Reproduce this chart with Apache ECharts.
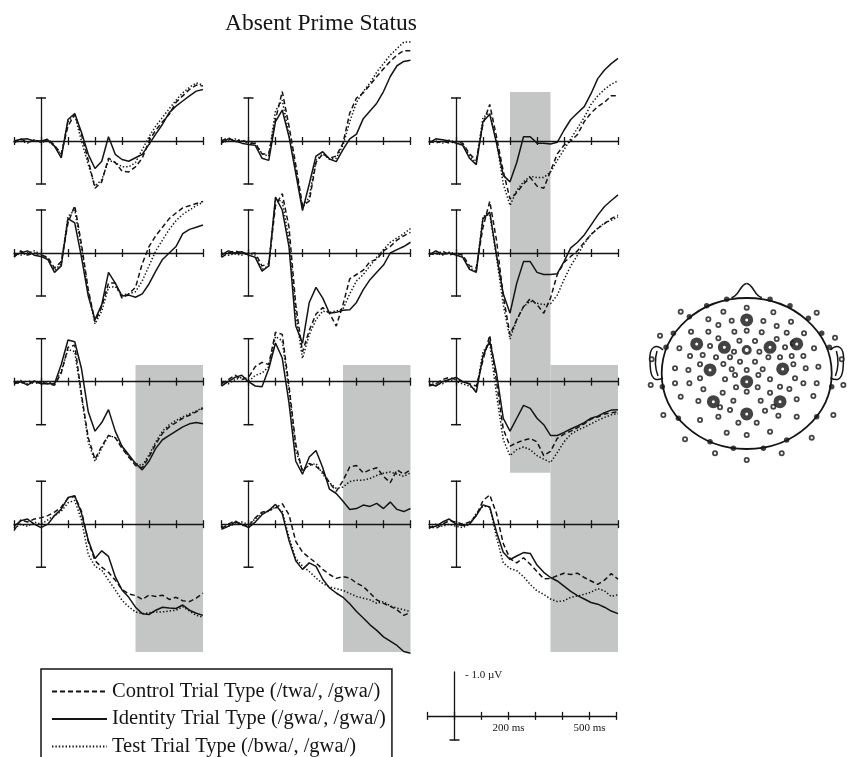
<!DOCTYPE html>
<html><head><meta charset="utf-8">
<script src="https://cdn.jsdelivr.net/npm/echarts/dist/echarts.min.js"></script>
<style>html,body{margin:0;padding:0;background:#fff}#c{width:847px;height:757px}</style>
</head><body><div id="c"></div>
<script>
// ---------- DATA ----------
const times = [-100,-75,-50,-25,0,25,50,75,100,125,150,175,200,225,250,275,300,325,350,375,400,425,450,475,500,525,550,575,600];
const seriesNames = ['Control Trial Type (/twa/, /gwa/)', 'Identity Trial Type (/gwa/, /gwa/)', 'Test Trial Type (/bwa/, /gwa/)'];
const titleText = 'Absent Prime Status';

// values in microvolts (negative plotted upward)
const r1c1_control  = [0.05,-0.05,0.03,-0.02,0.02,-0.05,0.1,0.3,-0.35,-0.62,-0.15,0.45,1.1,0.95,0.4,0.5,0.7,0.72,0.6,0.4,0.0,-0.25,-0.45,-0.62,-0.9,-1.05,-1.2,-1.3,-1.28];
const r1c1_identity = [0.0,-0.04,-0.05,0.0,0.0,-0.03,0.12,0.39,-0.5,-0.64,-0.2,0.31,0.64,0.47,-0.1,0.31,0.43,0.47,0.39,0.31,0.08,-0.16,-0.39,-0.66,-0.81,-0.93,-1.05,-1.16,-1.2];
const r1c1_test     = [0.02,0.0,0.05,-0.03,0.03,0.0,0.12,0.32,-0.45,-0.6,0.0,0.55,1.05,0.9,0.45,0.5,0.6,0.6,0.5,0.2,-0.1,-0.35,-0.55,-0.75,-0.95,-1.12,-1.25,-1.35,-1.3];

const r1c2_control  = [0.0,-0.08,0.02,-0.03,0.05,0.05,0.3,0.3,-0.5,-1.15,-0.35,0.55,1.5,1.4,0.5,0.3,0.4,0.35,0.05,-0.65,-1.0,-1.12,-1.3,-1.5,-1.68,-1.85,-2.0,-2.1,-2.1];
const r1c2_identity = [0.05,-0.05,0.0,0.05,0.08,0.1,0.4,0.45,-0.45,-0.72,-0.1,0.75,1.62,1.0,0.35,0.25,0.42,0.48,0.2,-0.05,-0.16,-0.52,-0.7,-0.88,-1.15,-1.5,-1.75,-1.85,-1.88];
const r1c2_test     = [0.03,0.0,-0.05,0.0,0.02,0.05,0.3,0.35,-0.7,-0.95,-0.15,0.65,1.55,1.3,0.45,0.3,0.42,0.4,0.1,-0.45,-0.9,-1.15,-1.35,-1.6,-1.8,-2.0,-2.15,-2.3,-2.3];

const r1c3_control  = [0.0,0.05,0.0,0.05,0.02,0.05,0.3,0.45,-0.4,-0.85,-0.1,0.7,1.35,1.2,1.0,0.85,1.05,1.1,0.7,0.3,0.1,0.0,-0.15,-0.45,-0.65,-0.8,-0.9,-1.05,-1.05];
const r1c3_identity = [0.05,-0.05,-0.03,0.0,0.05,0.1,0.4,0.55,-0.45,-0.62,0.05,0.8,0.95,0.5,-0.1,-0.1,0.05,0.05,0.07,0.03,-0.25,-0.5,-0.65,-0.8,-1.1,-1.45,-1.65,-1.8,-1.92];
const r1c3_test     = [0.02,0.0,0.05,-0.02,0.03,0.08,0.35,0.5,-0.55,-0.65,0.0,1.0,1.5,1.15,0.95,0.82,0.85,0.85,0.72,0.45,0.2,-0.05,-0.3,-0.55,-0.85,-1.05,-1.2,-1.32,-1.4];

const r2c1_control  = [0.1,-0.05,0.05,0.0,0.05,0.1,0.35,0.2,-0.7,-1.1,-0.2,0.85,1.6,1.25,0.7,0.7,1.05,0.95,0.8,0.25,-0.15,-0.4,-0.6,-0.8,-0.93,-1.05,-1.1,-1.15,-1.2];
const r2c1_identity = [0.05,0.0,-0.05,0.05,0.08,0.15,0.45,0.3,-0.8,-0.7,0.1,1.0,1.55,1.2,0.45,0.7,1.0,0.98,1.03,0.95,0.72,0.42,0.15,0.0,-0.15,-0.45,-0.55,-0.6,-0.65];
const r2c1_test     = [0.0,0.05,0.0,-0.05,0.03,0.12,0.4,0.25,-0.85,-1.0,-0.1,0.9,1.65,1.35,0.8,0.78,0.98,0.95,0.9,0.65,0.3,-0.05,-0.3,-0.55,-0.75,-0.9,-1.0,-1.1,-1.18];

const r2c2_control  = [0.1,0.0,-0.05,0.0,0.02,0.0,0.3,0.25,-1.1,-1.38,-0.6,1.2,2.3,1.8,1.42,1.27,1.4,1.7,1.2,0.6,0.5,0.4,0.2,0.15,-0.05,-0.15,-0.3,-0.4,-0.48];
const r2c2_identity = [0.05,-0.05,0.0,-0.03,0.05,0.1,0.42,0.3,-1.3,-1.0,-0.14,1.7,2.1,1.15,0.8,1.05,1.4,1.38,1.33,1.32,1.15,0.85,0.62,0.45,0.28,0.0,-0.08,-0.15,-0.25];
const r2c2_test     = [0.0,0.05,0.02,0.05,0.0,0.05,0.38,0.3,-1.25,-1.2,-0.3,1.4,2.45,1.9,1.55,1.35,1.38,1.35,1.3,0.95,0.65,0.5,0.3,0.1,-0.08,-0.25,-0.35,-0.45,-0.57];

const r2c3_control  = [0.0,0.05,-0.05,0.05,0.0,0.05,0.3,0.35,-0.6,-1.2,-0.3,1.0,1.9,1.55,1.25,1.06,1.2,1.4,1.05,0.5,0.22,0.08,-0.05,-0.25,-0.43,-0.57,-0.68,-0.8,-0.88];
const r2c3_identity = [0.05,-0.05,0.03,0.0,0.05,0.1,0.38,0.45,-0.8,-0.95,0.05,0.95,1.4,0.7,0.2,0.2,0.45,0.5,0.5,0.48,0.2,-0.12,-0.25,-0.42,-0.65,-0.88,-1.08,-1.22,-1.35];
const r2c3_test     = [0.03,0.0,0.05,-0.02,0.02,0.08,0.35,0.42,-0.85,-0.9,0.1,1.2,2.0,1.55,1.25,1.12,1.17,1.2,1.18,0.98,0.62,0.3,0.05,-0.22,-0.43,-0.58,-0.7,-0.76,-0.84];

const r3c1_control  = [0.0,0.05,-0.03,0.05,0.0,0.05,0.08,-0.2,-0.8,-0.85,0.3,1.3,1.8,1.5,1.25,1.3,1.55,1.75,1.95,2.0,1.75,1.45,1.2,1.05,0.95,0.85,0.78,0.7,0.62];
const r3c1_identity = [0.05,0.0,0.08,-0.02,0.05,0.05,0.05,-0.4,-0.97,-0.93,-0.3,0.7,1.15,0.95,0.65,1.15,1.5,1.7,1.9,2.05,1.85,1.55,1.35,1.25,1.15,1.05,0.98,0.95,0.98];
const r3c1_test     = [0.03,-0.03,0.05,0.0,0.03,0.0,0.05,-0.25,-0.75,-0.7,0.35,1.4,1.85,1.55,1.25,1.3,1.5,1.75,1.9,1.95,1.7,1.4,1.15,1.0,0.9,0.82,0.75,0.68,0.6];

const r3c2_control  = [0.05,-0.05,-0.15,-0.05,-0.1,-0.35,-0.45,-0.4,-1.15,-1.1,0.1,1.45,2.1,1.9,1.97,2.1,2.35,2.55,2.3,1.98,1.95,2.12,2.05,2.0,2.2,2.35,2.05,2.15,2.05];
const r3c2_identity = [0.1,0.0,-0.1,-0.15,0.0,0.1,0.12,-0.3,-0.9,-0.55,0.5,1.85,2.15,1.75,1.6,2.0,2.5,2.6,2.78,2.97,2.95,2.87,2.9,2.83,2.95,2.8,2.97,3.02,2.95];
const r3c2_test     = [0.0,0.05,-0.05,-0.1,0.0,-0.15,-0.2,-0.35,-1.05,-0.95,0.2,1.6,2.05,1.95,1.9,2.15,2.35,2.48,2.45,2.32,2.29,2.29,2.25,2.18,2.13,2.1,2.15,2.2,2.12];

const r3c3_control  = [0.1,0.05,-0.05,-0.1,-0.05,0.0,0.05,0.1,-0.5,-1.08,0.0,1.1,1.5,1.42,1.36,1.32,1.4,1.72,1.62,1.32,1.22,1.15,1.07,0.98,0.87,0.82,0.75,0.72,0.7];
const r3c3_identity = [0.05,0.1,0.0,-0.05,-0.1,0.0,0.05,0.25,-0.6,-0.95,-0.2,0.85,1.15,0.85,0.55,0.62,0.85,1.0,1.25,1.25,1.18,1.1,1.03,0.95,0.85,0.8,0.72,0.66,0.65];
const r3c3_test     = [0.0,0.05,0.05,-0.05,0.0,0.05,0.1,0.2,-0.7,-0.9,0.3,1.35,1.72,1.58,1.52,1.58,1.72,1.8,1.88,1.65,1.4,1.22,1.13,1.06,0.98,0.9,0.83,0.77,0.74];

const r4c1_control  = [0.15,-0.1,-0.05,-0.12,-0.15,-0.2,-0.28,-0.4,-0.6,-0.65,-0.3,0.4,0.85,1.0,1.12,1.3,1.52,1.62,1.66,1.75,1.65,1.68,1.65,1.75,1.7,1.78,1.8,1.72,1.6];
const r4c1_identity = [0.05,-0.08,-0.12,0.0,0.08,0.0,-0.2,-0.35,-0.62,-0.66,-0.25,0.37,0.8,0.62,0.75,1.22,1.53,1.7,1.93,2.08,2.1,2.0,1.93,1.95,1.96,1.88,2.0,2.07,2.12];
const r4c1_test     = [0.1,0.0,0.05,-0.05,0.0,-0.1,-0.2,-0.3,-0.5,-0.55,-0.1,0.7,0.98,1.07,1.3,1.53,1.77,1.92,2.04,2.08,2.06,2.04,2.04,2.02,2.0,1.92,2.02,2.12,2.16];

const r4c2_control  = [0.1,0.0,-0.08,0.02,0.05,-0.15,-0.28,-0.32,-0.38,-0.48,-0.22,0.4,0.65,0.78,0.9,1.05,1.17,1.26,1.22,1.25,1.37,1.45,1.6,1.76,1.84,1.91,1.99,2.12,2.05];
const r4c2_identity = [0.12,0.05,-0.05,0.0,0.08,-0.05,-0.22,-0.32,-0.46,-0.25,0.38,0.85,1.05,0.9,0.98,1.28,1.48,1.6,1.7,1.85,2.03,2.18,2.34,2.47,2.62,2.72,2.82,2.96,3.0];
const r4c2_test     = [0.05,0.05,0.0,-0.05,0.0,-0.12,-0.25,-0.3,-0.4,-0.3,0.3,0.8,0.97,1.1,1.25,1.38,1.46,1.5,1.54,1.61,1.68,1.72,1.76,1.84,1.8,1.9,1.95,1.99,2.03];

const r4c3_control  = [0.05,0.1,0.0,-0.08,-0.05,0.0,-0.05,-0.2,-0.55,-0.68,-0.25,0.45,0.8,0.9,0.78,0.93,1.1,1.27,1.26,1.2,1.14,1.17,1.14,1.24,1.32,1.4,1.3,1.15,1.28];
const r4c3_identity = [0.08,0.05,-0.05,-0.12,0.0,0.03,0.0,-0.2,-0.45,-0.4,0.18,0.65,0.82,0.74,0.66,0.68,0.95,1.12,1.24,1.32,1.44,1.56,1.66,1.74,1.82,1.86,1.93,2.02,2.08];
const r4c3_test     = [0.1,0.0,0.05,0.0,0.05,0.08,0.0,-0.25,-0.42,-0.4,0.3,0.9,1.03,1.08,1.22,1.4,1.55,1.63,1.74,1.8,1.78,1.7,1.67,1.63,1.58,1.5,1.55,1.68,1.64];

// analysis windows (ms)
const windowEarly = [200, 350];
const windowLate  = [350, 600];

// scale bar labels
const scaleXValues = [200, 500];
const scaleXTexts  = ['200 ms', '500 ms'];
const scaleYText   = '- 1.0 \u00b5V';

// electrode montage (head-map units)
const electrodesRim = [[290,88],[420,88],[230,107],[480,107],[178,140],[535,145],[130,190],[575,190],[108,232],[598,232],[97,350],[605,350],[145,445],[560,440],[240,515],[310,535],[400,535],[470,510]];
const electrodesSmall = [[350,113],[152,125],[280,125],[430,127],[560,128],[235,148],[305,152],[400,153],[483,155],[265,165],[440,168],
 [183,185],[235,185],[313,185],[350,182],[395,187],[470,188],[522,190],[90,197],[615,203],
 [265,205],[328,212],[375,213],[440,207],[488,220],[148,235],[240,228],[312,245],[388,245],[465,232],[552,235],
 [180,258],[218,255],[258,262],[300,262],[330,275],[375,275],[415,262],[450,262],[485,258],[520,258],[65,268],[635,268],
 [280,282],[210,283],[490,283],[135,295],[175,300],[305,298],[350,300],[398,298],[527,295],[565,290],
 [210,325],[285,328],[315,315],[385,315],[420,328],[495,325],[135,340],[178,340],[520,340],[560,340],[62,345],[640,345],
 [220,358],[318,352],[383,352],[450,350],[478,357],[278,368],[350,365],[420,368],
 [152,380],[205,393],[310,392],[392,392],[500,388],[550,378],[270,412],[405,422],[430,410],[300,420],
 [100,435],[210,450],[265,440],[445,437],[500,440],[610,435],[325,458],[380,458],[290,488],[350,495],[420,485],
 [165,508],[545,503],[255,550],[455,550],[350,570]];
const electrodesLarge = [[350,150],[200,222],[283,232],[420,232],[500,222],[240,300],[458,297],[350,335],[250,395],[450,395],[350,432]];
const electrodesRef = [[350,240]];

const panels = [
  [r1c1_control, r1c1_identity, r1c1_test], [r1c2_control, r1c2_identity, r1c2_test], [r1c3_control, r1c3_identity, r1c3_test],
  [r2c1_control, r2c1_identity, r2c1_test], [r2c2_control, r2c2_identity, r2c2_test], [r2c3_control, r2c3_identity, r2c3_test],
  [r3c1_control, r3c1_identity, r3c1_test], [r3c2_control, r3c2_identity, r3c2_test], [r3c3_control, r3c3_identity, r3c3_test],
  [r4c1_control, r4c1_identity, r4c1_test], [r4c2_control, r4c2_identity, r4c2_test], [r4c3_control, r4c3_identity, r4c3_test]
];

// ---------- LAYOUT ----------
const colX = [41, 248.5, 456];        // pixel x of time 0
const rowY = [141, 253, 381.7, 524.2];// pixel y of 0 uV
const pxPer100 = 27, pxPerUV = 43;
const INK = '#141414';
const SERIF = '"Liberation Serif","Times New Roman",serif';
const lineTypes = [[5,3], 'solid', [1.4,2]];

const grids = [], xAxes = [], yAxes = [], series = [];

// time axis placed at the zero line via offset from the grid bottom
function timeAxis(gi, inside, offset, showLine, label) {
  return {
    type: 'value', gridIndex: gi, min: -100, max: 600, interval: 100, z: 5,
    position: 'bottom', offset: offset,
    axisLine: { show: showLine, onZero: false, lineStyle: { color: INK, width: 1.3 } },
    axisTick: { show: true, inside: inside, length: 4, lineStyle: { color: INK, width: 1.3 } },
    axisLabel: label || { show: false }, splitLine: { show: false }
  };
}

// shaded windows
const shades = [
  { col: 2, top: 92, bottom: 472.7, win: windowEarly },
  { col: 0, top: 365, bottom: 652, win: windowLate },
  { col: 1, top: 365, bottom: 652, win: windowLate },
  { col: 2, top: 365, bottom: 652, win: windowLate }
];
shades.forEach(s => {
  const gi = grids.length;
  grids.push({ left: colX[s.col] - pxPer100, top: s.top, width: pxPer100 * 7, height: s.bottom - s.top });
  const xi = xAxes.length, yi = yAxes.length;
  xAxes.push({ type: 'value', gridIndex: gi, min: -100, max: 600, show: false });
  yAxes.push({ type: 'value', gridIndex: gi, min: 0, max: 1, show: false });
  series.push({ type: 'line', xAxisIndex: xi, yAxisIndex: yi, data: [], z: 0, silent: true,
    markArea: { silent: true, z: 0, itemStyle: { color: '#c4c5c5' }, data: [[{ xAxis: s.win[0] }, { xAxis: s.win[1] }]] } });
});

// ERP panels
panels.forEach((trio, p) => {
  const r = Math.floor(p / 3), c = p % 3;
  const gi = grids.length;
  grids.push({ left: colX[c] - pxPer100, top: rowY[r] - pxPerUV, width: pxPer100 * 7, height: pxPerUV * 2 });
  const xi = xAxes.length;
  xAxes.push(timeAxis(gi, true, -pxPerUV, true));
  xAxes.push(timeAxis(gi, false, -pxPerUV, false));
  const yi = yAxes.length;
  yAxes.push({ type: 'value', gridIndex: gi, min: -1, max: 1, inverse: true, z: 5,
    axisLine: { show: true, onZero: true, symbol: ['rect', 'rect'], symbolSize: [10, 1.5], lineStyle: { color: INK, width: 1.3 } },
    axisTick: { show: false }, axisLabel: { show: false }, splitLine: { show: false } });
  trio.forEach((vals, k) => {
    series.push({ type: 'line', name: seriesNames[k], xAxisIndex: xi, yAxisIndex: yi,
      data: times.map((t, i) => [t, vals[i]]), showSymbol: false, symbol: 'none', clip: false, z: 3, silent: true,
      itemStyle: { color: INK },
      lineStyle: { color: INK, width: 1.5, type: lineTypes[k] } });
  });
});

// scale bar
{
  const gi = grids.length;
  const sTop = 672, sH = 68, sMin = -1, sMax = 0.55;
  const zeroFromBottom = sH * (sMax - 0) / (sMax - sMin);
  grids.push({ left: 427.5, top: sTop, width: pxPer100 * 7, height: sH });
  const xi = xAxes.length;
  xAxes.push(timeAxis(gi, true, -zeroFromBottom, true));
  xAxes.push(timeAxis(gi, false, -zeroFromBottom, false, { show: true, margin: 7, fontSize: 11, fontFamily: SERIF, color: INK,
    formatter: v => { const j = scaleXValues.indexOf(v); return j >= 0 ? scaleXTexts[j] : ''; } }));
  const yi = yAxes.length;
  yAxes.push({ type: 'value', gridIndex: gi, min: sMin, max: sMax, inverse: true, z: 5,
    axisLine: { show: true, onZero: true, symbol: ['rect', 'none'], symbolSize: [10, 1.5], lineStyle: { color: INK, width: 1.3 } },
    axisTick: { show: false }, splitLine: { show: false }, axisLabel: { show: false } });
  series.push({ type: 'line', xAxisIndex: xi, yAxisIndex: yi, data: [], silent: true });
}

// head map
{
  const gi = grids.length;
  grids.push({ left: 661.7, top: 298.3, width: 170, height: 151 });
  const xi = xAxes.length, yi = yAxes.length;
  xAxes.push({ type: 'value', gridIndex: gi, min: 95, max: 605, show: false });
  yAxes.push({ type: 'value', gridIndex: gi, min: 85, max: 538, inverse: true, show: false });
  const base = { type: 'scatter', xAxisIndex: xi, yAxisIndex: yi, clip: false, silent: true, z: 4 };
  series.push(Object.assign({}, base, { data: electrodesRim, symbolSize: 5.5, itemStyle: { color: INK } }));
  series.push(Object.assign({}, base, { data: electrodesSmall, symbolSize: 4.2, itemStyle: { color: '#fff', borderColor: INK, borderWidth: 1.8 } }));
  series.push(Object.assign({}, base, { data: electrodesLarge, symbolSize: 8, itemStyle: { color: '#fff', borderColor: INK, borderWidth: 5 } }));
  series.push(Object.assign({}, base, { data: electrodesRef, symbolSize: 7, itemStyle: { color: '#fff', borderColor: INK, borderWidth: 3 } }));
}

function bez(a, b, c1, c2, w) {
  return { type: 'bezierCurve', z: 1, silent: true,
    shape: { x1: a[0], y1: a[1], x2: b[0], y2: b[1], cpx1: c1[0], cpy1: c1[1], cpx2: c2[0], cpy2: c2[1] },
    style: { fill: null, stroke: INK, lineWidth: w } };
}
const MX = 1493.4;
function mir(p) { return [MX - p[0], p[1]]; }
const earL = [
  [[663,350],[650,360],[656,343],[649,347]],
  [[650,360],[663,378],[650,372],[651,384]],
  [[657,351],[658,376],[655,358],[655,368]]
];
const graphics = [
  { type: 'ellipse', z: 1, silent: true, shape: { cx: 746.7, cy: 373.5, rx: 85, ry: 75.5 }, style: { fill: null, stroke: INK, lineWidth: 1.8 } },
  bez([731.5,297.6],[746.7,283.5],[739,296.5],[740.5,283.5],1.6),
  bez([746.7,283.5],[761.9,297.6],[752.9,283.5],[754.4,296.5],1.6),
  { type: 'text', x: 465, y: 675, z: 6, silent: true,
    style: { text: scaleYText, fontSize: 11, fontFamily: SERIF, fill: INK, verticalAlign: 'middle', align: 'left' } }
];
earL.forEach(s => {
  graphics.push(bez(s[0], s[1], s[2], s[3], 1.5));
  graphics.push(bez(mir(s[0]), mir(s[1]), mir(s[2]), mir(s[3]), 1.5));
});

const option = {
  animation: false,
  backgroundColor: '#fff',
  title: { text: titleText, left: 225, top: 12, padding: 0,
    textStyle: { fontFamily: SERIF, fontSize: 23.5, fontWeight: 'normal', color: INK } },
  legend: {
    data: seriesNames, orient: 'vertical', left: 41, top: 669, height: 200, selectedMode: false,
    padding: [12, 6, 2, 10], itemWidth: 55, itemHeight: 14, itemGap: 6.5,
    borderColor: INK, borderWidth: 1.5,
    itemStyle: { opacity: 0 },
    textStyle: { fontFamily: SERIF, fontSize: 20.5, color: INK, lineHeight: 20 }
  },
  grid: grids, xAxis: xAxes, yAxis: yAxes, series: series,
  graphic: graphics
};

const chart = echarts.init(document.getElementById('c'), null, { renderer: 'canvas' });
chart.setOption(option);
</script>
</body></html>
